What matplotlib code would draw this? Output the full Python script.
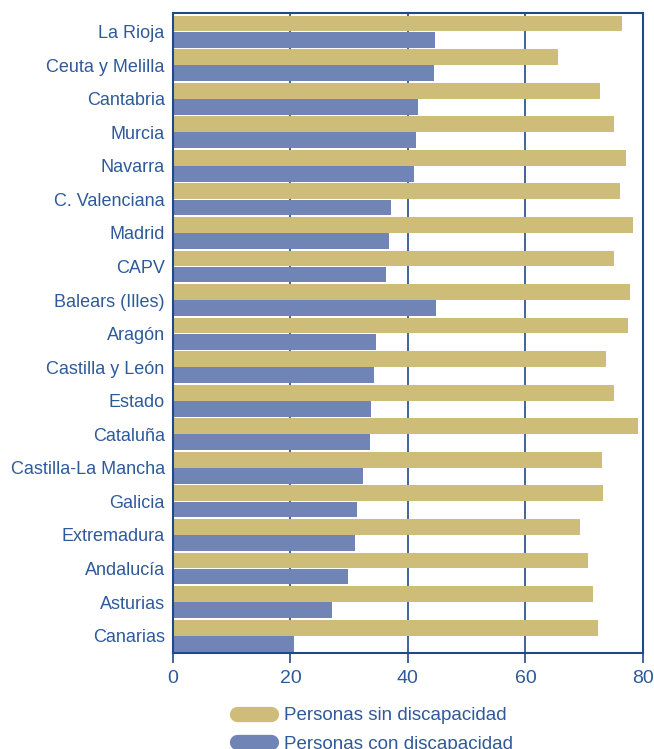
import numpy as np
import matplotlib
matplotlib.use("Agg")
import matplotlib.pyplot as plt
from matplotlib.lines import Line2D

plt.rcParams['font.family'] = ['Liberation Sans', 'DejaVu Sans']

regiones = ["La Rioja", "Ceuta y Melilla", "Cantabria", "Murcia", "Navarra",
            "C. Valenciana", "Madrid", "CAPV", "Balears (Illes)", "Aragón",
            "Castilla y León", "Estado", "Cataluña", "Castilla-La Mancha",
            "Galicia", "Extremadura", "Andalucía", "Asturias", "Canarias"]
sin_disc = [76.4, 65.5, 72.7, 75.1, 77.1, 76.1, 78.3, 75.1, 77.8, 77.4,
            73.7, 75.1, 79.1, 73.0, 73.2, 69.3, 70.6, 71.5, 72.3]
con_disc = [44.6, 44.4, 41.7, 41.4, 41.0, 37.1, 36.8, 36.3, 44.8, 34.6,
            34.2, 33.7, 33.5, 32.3, 31.3, 31.0, 29.8, 27.1, 20.6]

col_sin = "#cdbd78"
col_con = "#7085b5"
azul = "#2e5a9a"
borde = "#1f4a8a"

fig = plt.figure(figsize=(6.54, 7.49), dpi=100)
ax = fig.add_axes([0.2645, 0.128, 0.7185, 0.8545])

y = np.arange(len(regiones))
h = 0.47
ax.barh(y - h / 2 - 0.005, sin_disc, height=h, color=col_sin, zorder=2)
ax.barh(y + h / 2 + 0.005, con_disc, height=h, color=col_con, zorder=2)

ax.set_xlim(0, 80)
ax.set_ylim(len(regiones) - 0.5 + 0.02, -0.55)
ax.set_xticks([0, 20, 40, 60, 80])
ax.set_yticks(y)
ax.set_yticklabels(regiones)
ax.set_axisbelow(True)
ax.xaxis.grid(True, color=borde, linewidth=1.2, zorder=1)
for s in ax.spines.values():
    s.set_color(borde)
    s.set_linewidth(1.5)
    s.set_zorder(3)
ax.tick_params(axis='y', length=0, pad=6, labelsize=13, labelcolor=azul)
ax.tick_params(axis='x', length=7, width=1.2, color=borde, pad=5,
               labelsize=14, labelcolor=azul)

handles = [Line2D([0], [0], color=col_sin, lw=11, solid_capstyle='round'),
           Line2D([0], [0], color=col_con, lw=11, solid_capstyle='round')]
leg = fig.legend(handles, ["Personas sin discapacidad", "Personas con discapacidad"],
                 loc='upper left', bbox_to_anchor=(0.363, 0.056), frameon=False,
                 fontsize=13.5, handlelength=1.8, handletextpad=0.7,
                 labelspacing=0.6, borderaxespad=0, borderpad=0)
for t in leg.get_texts():
    t.set_color(azul)

fig.savefig("out.png", dpi=100)
